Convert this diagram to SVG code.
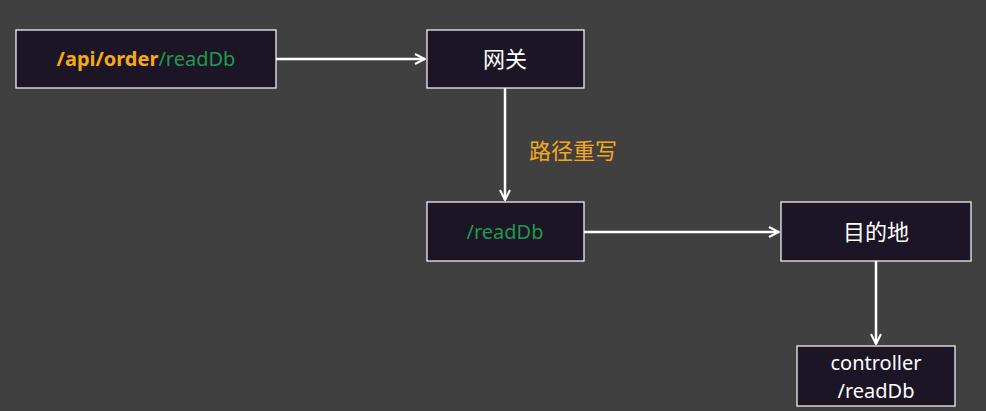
<svg xmlns="http://www.w3.org/2000/svg" width="986" height="411" viewBox="0 0 986 411">
<style>
.box{fill:#1c1526;stroke:#fff;stroke-width:1.2}
.t{font-family:"Noto Sans","Noto Sans CJK SC",sans-serif;font-size:20px;text-anchor:middle;fill:#fff}
.cjk{font-size:22px}
.g{fill:#1f9a4e}
.o{fill:#f5a81c}
.c{stroke:#fff;stroke-width:2.5;fill:none;marker-end:url(#a)}
</style>
<defs><marker id="a" viewBox="0 0 10 10" refX="9" refY="5" markerWidth="5" markerHeight="5" orient="auto" markerUnits="strokeWidth"><path d="M1,1 L9,5 L1,9" fill="none" stroke="#fff" stroke-width="1.6"/></marker></defs>
<rect width="986" height="411" fill="#404040"/>
<g id="src"><rect class="box" x="16" y="30" width="260" height="58"/><text class="t" x="146" y="66"><tspan class="o" font-weight="bold">/api/order</tspan><tspan class="g">/readDb</tspan></text></g>
<g id="gw"><rect class="box" x="427" y="30" width="157" height="58"/><text class="t cjk" x="505" y="67">网关</text></g>
<g id="rd"><rect class="box" x="427" y="202" width="157" height="59"/><text class="t g" x="505" y="239">/readDb</text></g>
<g id="dest"><rect class="box" x="781" y="202" width="190" height="59"/><text class="t cjk" x="876" y="240">目的地</text></g>
<g id="ctl"><rect class="box" x="797" y="346" width="158" height="60"/><text class="t" x="876" y="370">controller</text><text class="t" x="876" y="398">/readDb</text></g>
<g id="edges">
<line class="c" x1="276" y1="59" x2="425" y2="59"/>
<line class="c" x1="505" y1="88" x2="505" y2="200"/>
<line class="c" x1="584" y1="232" x2="779" y2="232"/>
<line class="c" x1="876" y1="261" x2="876" y2="344"/>
<text class="t o cjk" x="573" y="159">路径重写</text>
</g>
</svg>
